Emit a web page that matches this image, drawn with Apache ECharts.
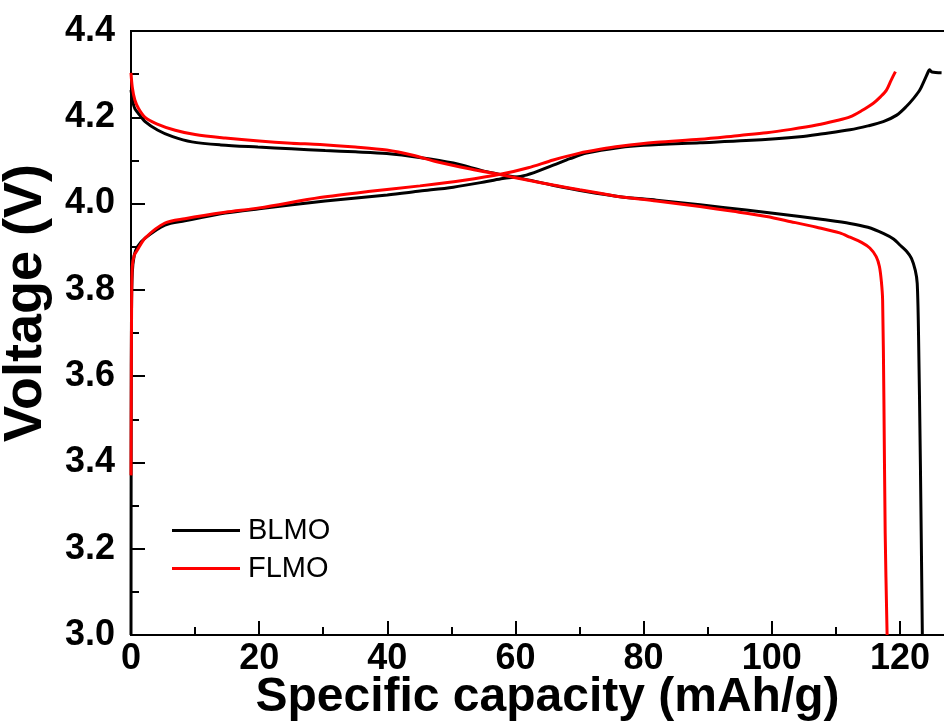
<!DOCTYPE html>
<html>
<head>
<meta charset="utf-8">
<script src="https://cdn.jsdelivr.net/npm/echarts@6/dist/echarts.min.js"></script>
<style>html,body{margin:0;padding:0;background:#fff;}#c{width:944px;height:724px;}</style>
</head>
<body>
<div id="c"></div>
<script>
const xTicks = [0, 20, 40, 60, 80, 100, 120];
const yTicks = [3.0, 3.2, 3.4, 3.6, 3.8, 4.0, 4.2, 4.4];
const seriesNames = ['BLMO', 'FLMO'];

const blmoCharge = [[0,3.0],[0.03,3.5],[0.08,3.75],[0.2,3.84],[0.5,3.88],[1,3.9],[2.2,3.92],[5.3,3.95],[8.4,3.96],[14.7,3.978],[20,3.988],[30.3,4.006],[40,4.02],[45.1,4.029],[50.3,4.038],[55.5,4.051],[58,4.058],[61.7,4.066],[65.9,4.089],[68.5,4.104],[71.1,4.117],[76.3,4.13],[80,4.135],[88.8,4.141],[96,4.146],[104.4,4.155],[108,4.162],[112.2,4.171],[115,4.18],[117.4,4.19],[119.5,4.205],[121,4.225],[122.2,4.245],[123.1,4.263],[123.8,4.285],[124.4,4.305],[124.6,4.31],[125,4.305],[126.5,4.303]];
const blmoDischarge = [[0,4.263],[0.3,4.235],[0.6,4.22],[1.1,4.21],[2.2,4.19],[4.2,4.17],[6.5,4.155],[9.5,4.143],[14,4.136],[19.8,4.131],[25,4.127],[30.3,4.123],[35,4.12],[39.9,4.116],[45,4.107],[50.3,4.094],[55.5,4.074],[60.7,4.059],[66,4.042],[71,4.028],[76.3,4.016],[82,4.008],[88.8,3.997],[96,3.985],[104.4,3.97],[108,3.963],[112.2,3.954],[115,3.945],[117.4,3.931],[119,3.918],[120,3.904],[121,3.89],[121.8,3.873],[122.4,3.845],[122.7,3.815],[122.9,3.7],[123.2,3.39],[123.5,3.0]];
const flmoCharge = [[0,3.37],[0.05,3.6],[0.1,3.776],[0.2,3.854],[0.5,3.88],[0.9,3.89],[2.2,3.92],[5.3,3.955],[8.4,3.965],[14.7,3.98],[20,3.99],[29.5,4.014],[37,4.028],[45.1,4.041],[52,4.054],[58,4.069],[62,4.083],[65.9,4.101],[70,4.117],[73.2,4.126],[76.3,4.133],[82,4.142],[88.8,4.149],[95,4.158],[99.2,4.164],[103,4.172],[107,4.182],[110,4.192],[112.2,4.201],[114,4.215],[115.8,4.232],[117,4.248],[117.9,4.263],[118.6,4.285],[119.3,4.306]];
const flmoDischarge = [[0,4.303],[0.2,4.27],[0.6,4.24],[1.2,4.22],[2.2,4.2],[4,4.185],[6.9,4.17],[10,4.16],[14.7,4.152],[20,4.145],[25,4.14],[29.5,4.137],[35,4.131],[39.9,4.124],[44,4.112],[47.7,4.097],[53,4.08],[58,4.066],[62,4.054],[65.9,4.043],[70,4.032],[73.2,4.024],[76.3,4.016],[82,4.006],[88.8,3.993],[94,3.982],[99.2,3.97],[103,3.958],[107,3.945],[110.6,3.932],[112.2,3.922],[114,3.91],[115.3,3.897],[116.3,3.877],[116.8,3.854],[117.1,3.82],[117.3,3.776],[117.5,3.545],[117.7,3.236],[118.0,3.0]];

const FONT = '"Liberation Sans", Arial, sans-serif';
const chart = echarts.init(document.getElementById('c'), null, {renderer: 'canvas'});

function lineSeries(name, data, color) {
  return {
    name: name, type: 'line', data: data, symbol: 'none', showSymbol: false, smooth: 0.3,
    lineStyle: {color: color, width: 3}, itemStyle: {color: color},
    clip: true, animation: false
  };
}

chart.setOption({
  animation: false,
  backgroundColor: '#fff',
  grid: {left: 131, top: 31, bottom: 89, right: -20, containLabel: false, outerBoundsMode: 'none',
    show: true, borderColor: '#000', borderWidth: 2, backgroundColor: 'transparent'},
  legend: {
    data: seriesNames, orient: 'vertical', left: 172, top: 516, padding: 0,
    icon: 'rect', itemWidth: 68, itemHeight: 3, itemGap: 9,
    textStyle: {fontFamily: FONT, fontSize: 29, color: '#000', padding: [0, 0, 0, 3]}
  },
  xAxis: {
    type: 'value', min: 0, max: 130, interval: 20,
    name: 'Specific capacity (mAh/g)', nameLocation: 'middle', nameGap: 39, nameMoveOverlap: false,
    nameTextStyle: {fontFamily: FONT, fontSize: 48, fontWeight: 'bold', color: '#000'},
    axisLine: {show: true, lineStyle: {color: '#000', width: 2}},
    axisTick: {show: true, inside: true, length: 14, lineStyle: {color: '#000', width: 2}},
    minorTick: {show: true, splitNumber: 2, length: 8, lineStyle: {color: '#000', width: 2}},
    splitLine: {show: false},
    axisLabel: {fontFamily: FONT, fontSize: 36, fontWeight: 'bold', color: '#000', margin: 6, showMaxLabel: false,
      formatter: v => (xTicks.indexOf(v) >= 0 ? String(v) : '')}
  },
  yAxis: {
    type: 'value', min: 3.0, max: 4.4, interval: 0.2,
    name: 'Voltage (V)', nameLocation: 'middle', nameGap: 78, nameMoveOverlap: false,
    nameTextStyle: {fontFamily: FONT, fontSize: 54, fontWeight: 'bold', color: '#000', padding: [0, 0, 0, 60]},
    axisLine: {show: true, lineStyle: {color: '#000', width: 2}},
    axisTick: {show: true, inside: true, length: 14, lineStyle: {color: '#000', width: 2}},
    minorTick: {show: true, splitNumber: 2, length: 8, lineStyle: {color: '#000', width: 2}},
    splitLine: {show: false},
    axisLabel: {fontFamily: FONT, fontSize: 36, fontWeight: 'bold', color: '#000', margin: 16,
      formatter: v => {const t = yTicks.find(y => Math.abs(y - v) < 1e-6); return t === undefined ? '' : t.toFixed(1);}}
  },
  series: [
    lineSeries('BLMO', blmoCharge, '#000'),
    lineSeries('BLMO', blmoDischarge, '#000'),
    lineSeries('FLMO', flmoCharge, '#ff0000'),
    lineSeries('FLMO', flmoDischarge, '#ff0000')
  ]
});
</script>
</body>
</html>
